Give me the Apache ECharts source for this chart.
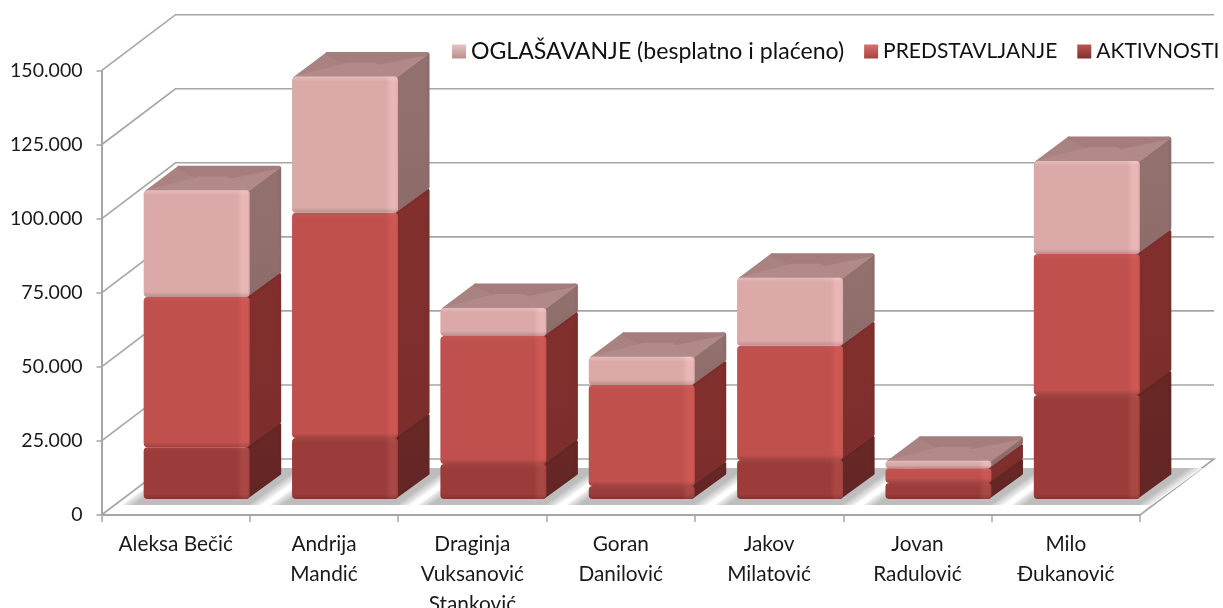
<!DOCTYPE html>
<html>
<head>
    <meta charset="utf-8">
    <title>ECharts</title>
    <script src="https://cdn.jsdelivr.net/npm/echarts@6/dist/echarts.min.js"></script>
    <style>
        html, body { margin: 0; padding: 0; background: #fff; }
    </style>
</head>
<body>
    <div id="main" style="width: 1223px;height:608px;"></div>

    <script type="text/javascript">
        var categories = ['Aleksa Bečić', 'Andrija\nMandić', 'Draginja\nVuksanović\nStanković', 'Goran\nDanilović', 'Jakov\nMilatović', 'Jovan\nRadulović', 'Milo\nĐukanović'];
        var aktivnosti = [17500, 20600, 11800, 4400, 13200, 5400, 35100];
        var predstavljanje = [50700, 76000, 43200, 34100, 38500, 5000, 47600];
        var oglasavanje = [36000, 46000, 9500, 9500, 23000, 2500, 31400];
        var tickValues = [0, 25000, 50000, 75000, 100000, 125000, 150000];

        // oblique projection used to fake the 3d look
        var wallDx = 74, wallDy = 56;
        var planeDx = 21, planeDy = 16;
        var barW = 106, depthDx = 32, depthDy = 25;

        var Grad = echarts.graphic.LinearGradient;

        var palette = {
            akt: { front: '#9B3C3A', light: '#A94744', side: '#632624', sideHi: '#682826' },
            pred: { front: '#C0504D', light: '#CC5753', side: '#7C2E2C', sideHi: '#822F2D' },
            ogl: { front: '#DAA9A8', light: '#E8B6B4', side: '#8D6D6B', sideHi: '#93716E',
                topBack: '#A47D7C', topLeft: '#A98382', topRight: '#B08988', topFront: '#B18A89' }
        };

        function stacked(base, vals) {
            return vals.map(function (v, i) {
                var from = 0;
                base.forEach(function (b) { from += b[i]; });
                return [i, from, from + v];
            });
        }

        function segment(pal, isTop) {
            return function (params, api) {
                var cat = api.value(0);
                var lo = api.coord([cat, api.value(1)]);
                var hi = api.coord([cat, api.value(2)]);
                var L = lo[0] + planeDx - barW / 2, R = L + barW;
                var B = lo[1] - planeDy, T = hi[1] - planeDy;
                var h = B - T;
                var kids = [];

                // right hand side
                kids.push({
                    type: 'polygon',
                    shape: { points: [[R - 3, T + 1.5], [R + depthDx - 2, T - depthDy + 2.5], [R + depthDx - 2, B - depthDy - 0.5], [R - 3, B - 1.5]] },
                    style: {
                        fill: new Grad(0, 0, 0, 1, [{ offset: 0, color: pal.sideHi }, { offset: 1, color: pal.side }]),
                        stroke: pal.side, lineWidth: 3, lineJoin: 'round'
                    }
                });

                if (isTop) {
                    var cx = (L + R) / 2 + depthDx / 2, cy = T - depthDy / 2;
                    var fl = [L + 3, T + 1], fr = [R - 3, T + 1], bl = [L + depthDx + 3, T - depthDy + 2], br = [R + depthDx - 3, T - depthDy + 2];
                    var ridgeL = [cx - 14, cy], ridgeR = [cx + 14, cy];
                    var tri = function (pts, c) {
                        return { type: 'polygon', shape: { points: pts }, style: { fill: c, stroke: c, lineWidth: 3, lineJoin: 'round' } };
                    };
                    kids.push(tri([fl, bl, ridgeL], pal.topLeft));
                    kids.push(tri([br, fr, ridgeR], pal.topRight));
                    kids.push(tri([bl, br, ridgeR, ridgeL], pal.topBack));
                    kids.push(tri([fl, fr, ridgeR, ridgeL], pal.topFront));
                }

                // front face with a small bevel
                var r = Math.min(4, h / 2);
                kids.push({
                    type: 'rect',
                    shape: { x: L, y: T, width: barW, height: h, r: r },
                    style: {
                        fill: new Grad(0, 0, 1, 0, [
                            { offset: 0, color: pal.front },
                            { offset: 0.88, color: pal.front },
                            { offset: 0.93, color: pal.light },
                            { offset: 0.98, color: pal.light },
                            { offset: 1, color: pal.front }
                        ])
                    }
                });
                var band = Math.min(5, h / 2.5) / h;
                kids.push({
                    type: 'rect',
                    shape: { x: L, y: T, width: barW, height: h, r: r },
                    style: {
                        fill: new Grad(0, 0, 0, 1, [
                            { offset: 0, color: 'rgba(255,255,255,' + (isTop ? 0.22 : 0.04) + ')' },
                            { offset: band, color: 'rgba(255,255,255,0)' },
                            { offset: 1 - band, color: 'rgba(0,0,0,0)' },
                            { offset: 1, color: 'rgba(0,0,0,0.16)' }
                        ])
                    }
                });
                return { type: 'group', children: kids };
            };
        }

        // gridlines: short slanted bit on the side wall, long one on the back wall
        function wallLine(params, api) {
            var p = api.coord([0, api.value(0)]);
            var g = params.coordSys;
            var x0 = g.x, y0 = p[1];
            var pts = [[x0, y0], [x0 + wallDx, y0 - wallDy], [x0 + g.width + wallDx, y0 - wallDy]];
            if (api.value(0) === 0) {
                pts.push([x0 + g.width, y0]);
            }
            return { type: 'polyline', shape: { points: pts }, style: { stroke: '#A6A6A6', lineWidth: 1.6, fill: null } };
        }

        // soft edged shadow on the floor, faded along the normal of the slanted edges
        function floorShadow(params, api) {
            var p = api.coord([api.value(0), 0]);
            var L = p[0] + planeDx - barW / 2, R = L + barW;
            var yb = p[1] - 10, yt = yb - 37;
            var xl = L - 22, xr = R + 12;
            var dist = (xr - xl) * 0.587;
            return {
                type: 'polygon',
                shape: { points: [[xl, yb], [xr, yb], [xr + 51, yt], [xl + 51, yt]] },
                style: {
                    fill: new Grad(xl, yb, xl + dist * 0.587, yb + dist * 0.81, [
                        { offset: 0, color: '#F0F0F0' },
                        { offset: 0.09, color: '#BDBDBD' },
                        { offset: 0.9, color: '#BDBDBD' },
                        { offset: 1, color: '#F8F8F8' }
                    ], true)
                }
            };
        }

        var myChart = echarts.init(document.getElementById('main'));

        var option = {
            animation: false,
            backgroundColor: '#fff',
            grid: { left: 101.5, top: 70.7, width: 1038.5, height: 444.3, outerBoundsMode: 'none' },
            legend: {
                left: 447,
                top: 35,
                width: 900,
                itemWidth: 14,
                itemHeight: 14,
                itemGap: 20,
                formatter: function (name) {
                    return name.indexOf('(') > 0 ? '{wide|' + name + '}' : '{caps|' + name + '}';
                },
                textStyle: {
                    rich: {
                        wide: { fontFamily: 'Lato', fontSize: 23.1, color: '#111' },
                        caps: { fontFamily: 'Lato', fontSize: 21, color: '#111' }
                    }
                },
                data: [
                    { name: 'OGLAŠAVANJE (besplatno i plaćeno)', icon: 'rect', itemStyle: { color: new Grad(0, 0, 0, 1, [{ offset: 0, color: '#E8C4C3' }, { offset: 1, color: '#B98F8E' }]) } },
                    { name: 'PREDSTAVLJANJE', icon: 'rect', itemStyle: { color: new Grad(0, 0, 0, 1, [{ offset: 0, color: '#D8706C' }, { offset: 1, color: '#A8423F' }]) } },
                    { name: 'AKTIVNOSTI', icon: 'rect', itemStyle: { color: new Grad(0, 0, 0, 1, [{ offset: 0, color: '#BC5552' }, { offset: 1, color: '#7F2F2D' }]) } }
                ]
            },
            xAxis: {
                type: 'category',
                data: categories,
                boundaryGap: true,
                axisLine: { lineStyle: { color: '#A6A6A6', width: 2 } },
                axisTick: { show: true, length: 7, lineStyle: { color: '#A6A6A6', width: 1.5 } },
                axisLabel: { interval: 0, margin: 14, lineHeight: 30, fontFamily: 'Lato', fontSize: 20.8, color: '#1a1a1a' }
            },
            yAxis: {
                type: 'value',
                min: 0,
                max: 150000,
                interval: 25000,
                splitLine: { show: false },
                axisLine: { show: true, lineStyle: { color: '#A6A6A6', width: 2 } },
                axisTick: { show: true, length: 5, lineStyle: { color: '#A6A6A6', width: 1.5 } },
                axisLabel: {
                    margin: 19,
                    fontFamily: 'Lato',
                    fontSize: 19.5,
                    color: '#1a1a1a',
                    formatter: function (v) { return String(v).replace(/\B(?=(\d{3})+$)/g, '.'); }
                }
            },
            series: [
                { type: 'custom', name: 'wall', silent: true, renderItem: wallLine, data: tickValues.map(function (v) { return [v]; }), encode: { y: 0 } },
                { type: 'custom', name: 'floor', silent: true, renderItem: floorShadow, data: categories.map(function (c, i) { return [i]; }), encode: { x: 0 } },
                { type: 'custom', name: 'AKTIVNOSTI', renderItem: segment(palette.akt, false), encode: { x: 0, y: [1, 2] }, itemStyle: { color: palette.akt.front }, data: stacked([], aktivnosti) },
                { type: 'custom', name: 'PREDSTAVLJANJE', renderItem: segment(palette.pred, false), encode: { x: 0, y: [1, 2] }, itemStyle: { color: palette.pred.front }, data: stacked([aktivnosti], predstavljanje) },
                { type: 'custom', name: 'OGLAŠAVANJE (besplatno i plaćeno)', renderItem: segment(palette.ogl, true), encode: { x: 0, y: [1, 2] }, itemStyle: { color: palette.ogl.front }, data: stacked([aktivnosti, predstavljanje], oglasavanje) }
            ]
        };

        myChart.setOption(option);
    </script>
</body>
</html>
